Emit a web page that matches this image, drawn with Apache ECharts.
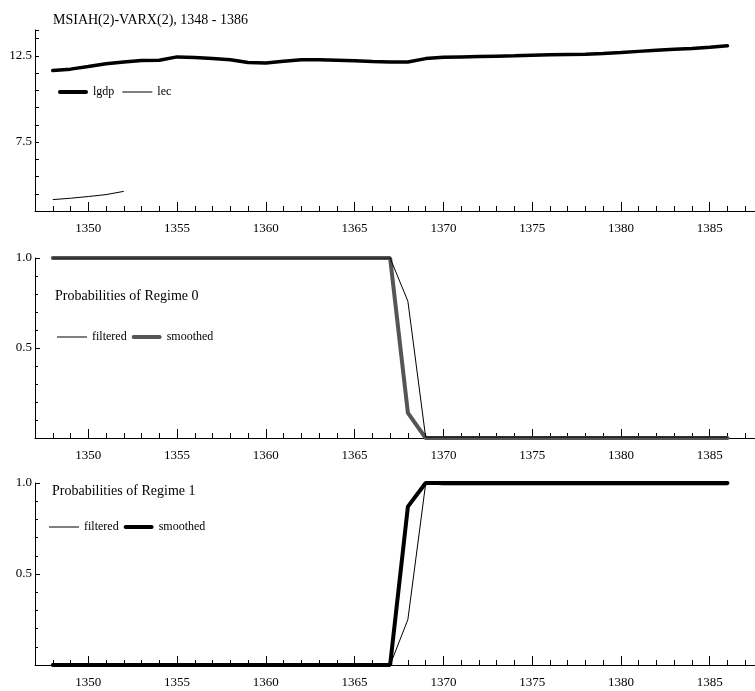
<!DOCTYPE html>
<html><head><meta charset="utf-8">
<script src="https://cdn.jsdelivr.net/npm/echarts@6/dist/echarts.min.js"></script>
<style>html,body{margin:0;padding:0;background:#fff}#c{width:755px;height:691px}</style>
</head><body><div id="c"></div>
<script>
// ---- data ----
const axisYears = ['1347','1348','1349','1350','1351','1352','1353','1354','1355','1356','1357','1358','1359','1360','1361','1362','1363','1364','1365','1366','1367','1368','1369','1370','1371','1372','1373','1374','1375','1376','1377','1378','1379','1380','1381','1382','1383','1384','1385','1386','1387','1388'];
const years = [1348,1349,1350,1351,1352,1353,1354,1355,1356,1357,1358,1359,1360,1361,1362,1363,1364,1365,1366,1367,1368,1369,1370,1371,1372,1373,1374,1375,1376,1377,1378,1379,1380,1381,1382,1383,1384,1385,1386];
const lgdp = [11.65,11.73,11.88,12.04,12.14,12.23,12.25,12.44,12.40,12.34,12.27,12.11,12.08,12.19,12.27,12.27,12.25,12.21,12.17,12.14,12.14,12.34,12.42,12.44,12.46,12.48,12.50,12.54,12.56,12.58,12.60,12.64,12.69,12.76,12.82,12.88,12.93,13.00,13.08];
const lec = [4.16,4.24,4.34,4.45,4.64];
const filtered0 = [1,1,1,1,1,1,1,1,1,1,1,1,1,1,1,1,1,1,1,1,0.76,0.005,0.005,0.005,0.005,0.005,0.005,0.005,0.005,0.005,0.005,0.005,0.005,0.005,0.005,0.005,0.005,0.005,0.005];
const smoothed0 = [1,1,1,1,1,1,1,1,1,1,1,1,1,1,1,1,1,1,1,1,0.14,0,0,0,0,0,0,0,0,0,0,0,0,0,0,0,0,0,0];
const filtered1 = [0,0,0,0,0,0,0,0,0,0,0,0,0,0,0,0,0,0,0,0,0.25,0.995,0.99,0.99,0.99,0.99,0.99,0.99,0.99,0.99,0.99,0.99,0.99,0.99,0.99,0.99,0.99,0.99,0.99];
const smoothed1 = [0,0,0,0,0,0,0,0,0,0,0,0,0,0,0,0,0,0,0,0,0.87,1,1,1,1,1,1,1,1,1,1,1,1,1,1,1,1,1,1];
const titles = ['MSIAH(2)-VARX(2), 1348 - 1386','Probabilities of Regime 0','Probabilities of Regime 1'];
const yLabels1 = [7.5, 12.5];

// ---- chart ----
const FONT = '"Liberation Serif", "Times New Roman", serif';
const pairs = (vals) => vals.map((v, i) => [String(years[i]), v]);

function xAxes(g) {
  return [
    {type:'category', gridIndex:g, data:axisYears, boundaryGap:false, position:'bottom',
     axisLine:{onZero:false, lineStyle:{color:'#000', width:1}},
     axisTick:{inside:true, length:5, interval:0, lineStyle:{color:'#000'}},
     axisLabel:{interval:(i, v) => (+v) % 5 === 0, color:'#000', fontFamily:FONT, fontSize:13, margin:11},
     splitLine:{show:false}},
    {type:'category', gridIndex:g, data:axisYears, boundaryGap:false, position:'bottom',
     axisLine:{show:false, onZero:false},
     axisTick:{inside:true, length:9, interval:(i, v) => (+v) % 5 === 0, lineStyle:{color:'#000'}},
     axisLabel:{show:false}, splitLine:{show:false}}
  ];
}
function probY(g) {
  return {type:'value', gridIndex:g, min:0, max:1, interval:0.5,
    axisLine:{show:true, onZero:false, lineStyle:{color:'#000'}},
    axisTick:{show:true, inside:true, length:5, lineStyle:{color:'#000'}},
    minorTick:{show:true, splitNumber:5, length:3, lineStyle:{color:'#000'}},
    axisLabel:{formatter:(v) => v === 0 ? '' : v.toFixed(1), color:'#000', fontFamily:FONT, fontSize:13, margin:3},
    splitLine:{show:false}, minorSplitLine:{show:false}};
}
const thin = 'path://M0,0L30,0L30,1L0,1Z';
const thick = 'path://M2,0L28,0A2,2,0,0,1,28,4L2,4A2,2,0,0,1,2,0Z';
const legText = {fontFamily:FONT, fontSize:12, color:'#000'};
function leg(items, left, top, gap) {
  return {data:items, left, top, itemWidth:30, itemHeight:14, itemGap:gap, padding:0,
    selectedMode:false, textStyle:legText, formatter:(n) => n.replace(/\d$/, '')};
}

const option = {
  animation:false,
  backgroundColor:'#fff',
  grid:[
    {left:35, top:30, height:181, right:-8, outerBoundsMode:'none', containLabel:false},
    {left:35, top:258, height:180, right:-8, outerBoundsMode:'none', containLabel:false},
    {left:35, top:483, height:182, right:-8, outerBoundsMode:'none', containLabel:false}
  ],
  xAxis:[...xAxes(0), ...xAxes(1), ...xAxes(2)],
  yAxis:[
    {type:'value', gridIndex:0, min:3.5, max:14, interval:1,
     axisLine:{show:true, onZero:false, lineStyle:{color:'#000'}},
     axisTick:{show:true, inside:true, length:4, lineStyle:{color:'#000'}},
     axisLabel:{formatter:(v) => yLabels1.includes(v) ? v.toFixed(1) : '', color:'#000', fontFamily:FONT, fontSize:13, margin:3},
     splitLine:{show:false}},
    probY(1), probY(2)
  ],
  legend:[
    leg([{name:'lgdp', icon:thick},{name:'lec', icon:thin}], 58, 86, 8),
    leg([{name:'filtered0', icon:thin},{name:'smoothed0', icon:thick}], 57, 331, 5),
    leg([{name:'filtered1', icon:thin},{name:'smoothed1', icon:thick}], 49, 521, 5)
  ],
  graphic:[
    {type:'text', left:53, top:13, style:{text:titles[0], font:'14px "Liberation Serif"', fill:'#000'}},
    {type:'text', left:55, top:289, style:{text:titles[1], font:'14px "Liberation Serif"', fill:'#000'}},
    {type:'text', left:52, top:484, style:{text:titles[2], font:'14px "Liberation Serif"', fill:'#000'}}
  ],
  series:[
    {name:'lgdp', type:'line', xAxisIndex:0, yAxisIndex:0, data:pairs(lgdp), symbol:'none',
     lineStyle:{color:'#000', width:3.5, cap:'round'}, itemStyle:{color:'#000'}},
    {name:'lec', type:'line', xAxisIndex:0, yAxisIndex:0, data:pairs(lec), symbol:'none',
     lineStyle:{color:'#000', width:1}, itemStyle:{color:'#000'}},
    {name:'smoothed0', type:'line', xAxisIndex:2, yAxisIndex:1, data:pairs(smoothed0), symbol:'none',
     lineStyle:{color:'#555', width:4, cap:'round'}, itemStyle:{color:'#555'}},
    {name:'filtered0', type:'line', xAxisIndex:2, yAxisIndex:1, data:pairs(filtered0), symbol:'none',
     lineStyle:{color:'#000', width:1}, itemStyle:{color:'#000'}},
    {name:'smoothed1', type:'line', xAxisIndex:4, yAxisIndex:2, data:pairs(smoothed1), symbol:'none',
     lineStyle:{color:'#000', width:4, cap:'round'}, itemStyle:{color:'#000'}},
    {name:'filtered1', type:'line', xAxisIndex:4, yAxisIndex:2, data:pairs(filtered1), symbol:'none',
     lineStyle:{color:'#000', width:1}, itemStyle:{color:'#000'}}
  ]
};
const chart = echarts.init(document.getElementById('c'), null, {renderer:'canvas'});
chart.setOption(option);
</script></body></html>
